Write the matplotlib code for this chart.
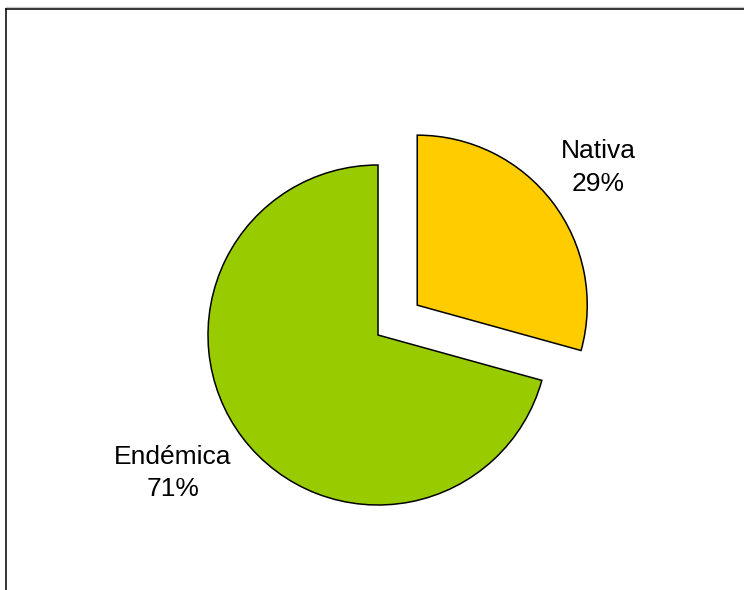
import matplotlib.pyplot as plt
from matplotlib.lines import Line2D

labels = ['Nativa', 'Endémica']
values = [29.3, 70.7]
colors = ['#FFCC00', '#99CC00']
explode = [0.29, 0]

plt.rcParams['font.family'] = ['Liberation Sans', 'DejaVu Sans']

fig = plt.figure(figsize=(7.44, 5.90), dpi=100)
ax = fig.add_axes([0, 0, 1, 1])

texts = ['{}\n{:.0f}%'.format(l, v) for l, v in zip(labels, values)]
wedges, label_texts = ax.pie(values, labels=texts, colors=colors, explode=explode,
                             startangle=90, counterclock=False, labeldistance=1.34,
                             wedgeprops={'edgecolor': 'black', 'linewidth': 1.1},
                             textprops={'fontsize': 19, 'ha': 'center', 'va': 'center',
                                        'linespacing': 1.45})

# Endémica label sits a bit further out and lower-left
x, y = label_texts[1].get_position()
label_texts[1].set_position((x * 1.44 / 1.34 - 0.06, y * 1.44 / 1.34 + 0.06))

# pie centre at (378, 335) px, radius 170 px
r = 170.0
ax.set_xlim(-378 / r, (744 - 378) / r)
ax.set_ylim(-(590 - 335) / r, 335 / r)
ax.set_aspect('auto')
ax.axis('off')

# chart area frame (only top and left edges visible)
fy = 1 - 9 / 590
fx = 6 / 744
fig.add_artist(Line2D([fx, 1], [1 - 7 / 590, 1 - 7 / 590], color='#c8c8c8', lw=1.0))
fig.add_artist(Line2D([fx, 1], [fy, fy], color='black', lw=1.1))
fig.add_artist(Line2D([fx, fx], [0, fy], color='black', lw=1.1))

fig.savefig('out.png', dpi=100)
